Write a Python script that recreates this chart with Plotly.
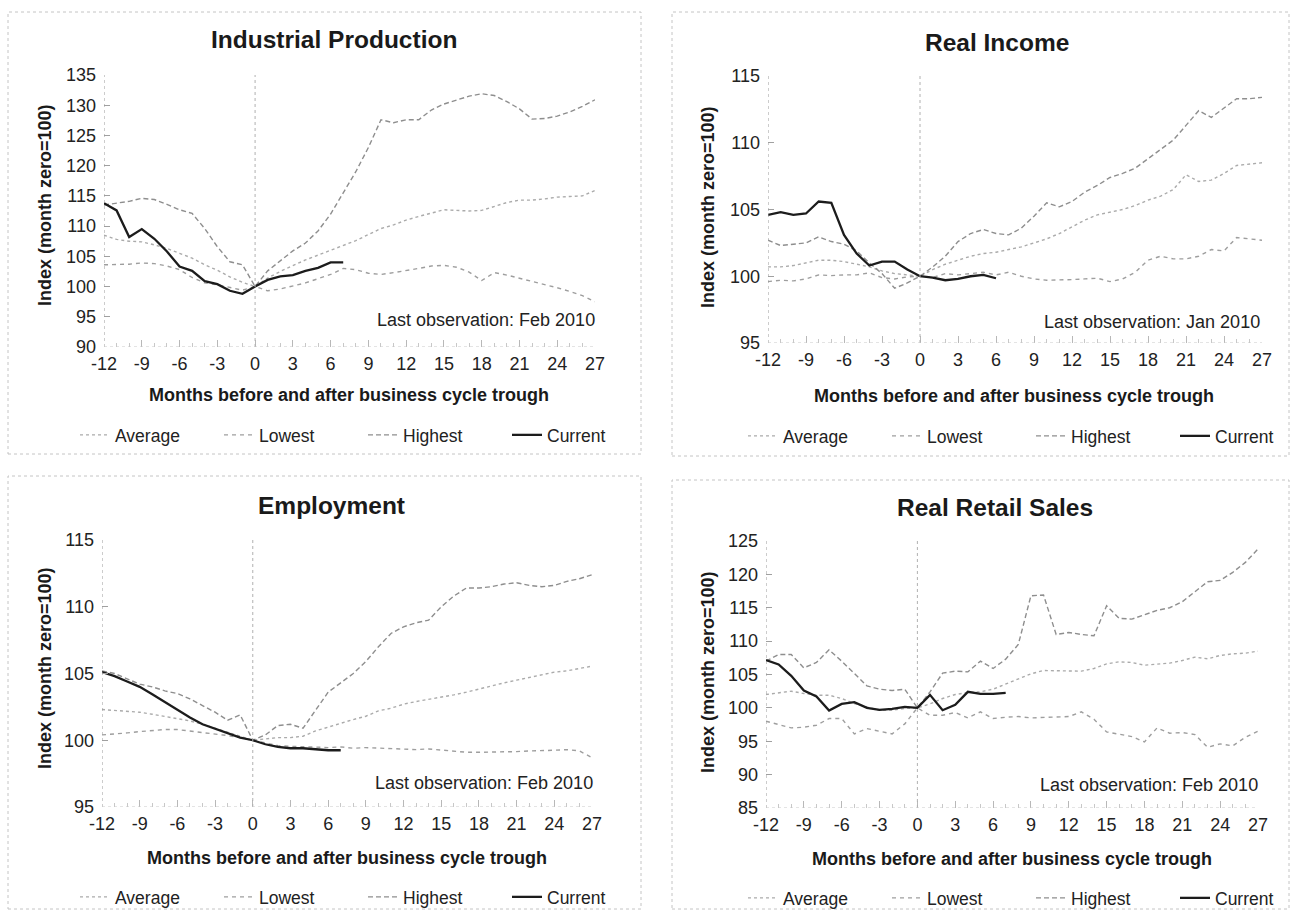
import plotly.graph_objects as go

FONT = "Liberation Sans, Arial, sans-serif"
W, H = 1290, 910

# Months relative to the business cycle trough
months = list(range(-12, 28))
current_months = list(range(-12, 8))
income_current_months = list(range(-12, 7))

# Industrial Production (index, month zero = 100)
ip_average = [108.5, 107.8, 107.5, 107.4, 106.9, 106.3, 105.5, 104.7, 103.6, 102.7, 101.6, 100.7, 100.0,
              101.4, 102.5, 103.5, 104.4, 105.2, 106.0, 106.7, 107.6, 108.6, 109.6, 110.2, 111.0, 111.6,
              112.2, 112.7, 112.6, 112.5, 112.6, 113.2, 113.9, 114.3, 114.3, 114.5, 114.8, 114.9, 115.0, 115.9]
ip_lowest = [103.6, 103.6, 103.7, 103.9, 103.8, 103.4, 102.8, 101.5, 100.6, 100.3, 99.9, 99.4, 100.0,
             99.3, 99.6, 100.1, 100.6, 101.3, 102.0, 103.0, 102.8, 102.2, 102.0, 102.3, 102.6, 103.0,
             103.4, 103.5, 103.2, 102.4, 101.0, 102.3, 101.9, 101.4, 100.8, 100.3, 99.8, 99.2, 98.5, 97.5]
ip_highest = [113.5, 113.8, 114.1, 114.6, 114.4, 113.6, 112.7, 112.1, 109.6, 106.6, 104.1, 103.6, 100.0,
              102.6, 104.3, 105.9, 107.2, 109.2, 112.0, 115.5, 119.0, 123.0, 127.6, 127.1, 127.6, 127.6,
              129.2, 130.2, 130.9, 131.5, 131.9, 131.6, 130.6, 129.4, 127.7, 127.8, 128.2, 128.9, 129.8, 130.9]
ip_current = [113.8, 112.6, 108.2, 109.5, 107.9, 105.8, 103.3, 102.6, 100.9, 100.4, 99.3, 98.8, 100.0,
              101.1, 101.7, 101.9, 102.6, 103.1, 104.0, 104.0]

# Real Income
ri_average = [100.7, 100.7, 100.8, 101.0, 101.2, 101.2, 101.1, 100.9, 100.7, 100.4, 100.2, 100.1, 100.0,
              100.5, 100.9, 101.2, 101.5, 101.7, 101.8, 102.0, 102.2, 102.5, 102.8, 103.2, 103.7, 104.2,
              104.6, 104.8, 105.0, 105.3, 105.7, 106.0, 106.5, 107.6, 107.1, 107.2, 107.7, 108.3, 108.4, 108.5]
ri_lowest = [99.6, 99.7, 99.65, 99.8, 100.1, 100.05, 100.1, 100.1, 100.25, 99.9, 99.8, 99.95, 100.0,
             99.9, 100.2, 100.1, 100.2, 100.3, 100.1, 100.3, 100.0, 99.8, 99.7, 99.7, 99.75, 99.8,
             99.85, 99.6, 99.8, 100.3, 101.2, 101.5, 101.3, 101.3, 101.5, 102.0, 101.9, 102.9, 102.8, 102.7]
ri_highest = [102.7, 102.3, 102.4, 102.5, 102.95, 102.6, 102.4, 101.9, 101.0, 100.2, 99.1, 99.5, 100.0,
              100.7, 101.5, 102.6, 103.2, 103.5, 103.2, 103.1, 103.6, 104.5, 105.5, 105.2, 105.6, 106.3,
              106.8, 107.4, 107.7, 108.1, 108.8, 109.5, 110.2, 111.3, 112.4, 111.9, 112.6, 113.3, 113.3, 113.4]
ri_current = [104.6, 104.8, 104.6, 104.7, 105.6, 105.5, 103.1, 101.7, 100.8, 101.1, 101.1, 100.5, 100.0,
              99.9, 99.7, 99.8, 100.0, 100.1, 99.85]

# Employment
emp_average = [102.3, 102.25, 102.2, 102.1, 101.95, 101.8, 101.65, 101.45, 101.2, 100.9, 100.55, 100.25, 100.0,
               100.1, 100.2, 100.2, 100.3, 100.7, 101.0, 101.3, 101.55, 101.8, 102.2, 102.4, 102.7, 102.9,
               103.05, 103.25, 103.4, 103.6, 103.85, 104.1, 104.3, 104.5, 104.7, 104.9, 105.1, 105.2, 105.35, 105.55]
emp_lowest = [100.4, 100.45, 100.55, 100.65, 100.75, 100.8, 100.8, 100.7, 100.6, 100.5, 100.35, 100.2, 100.0,
              99.75, 99.6, 99.55, 99.5, 99.45, 99.45, 99.5, 99.4, 99.45, 99.4, 99.35, 99.35, 99.3,
              99.35, 99.25, 99.15, 99.1, 99.1, 99.1, 99.15, 99.15, 99.2, 99.2, 99.25, 99.3, 99.2, 98.7]
emp_highest = [105.2, 105.0, 104.6, 104.2, 104.0, 103.7, 103.5, 103.1, 102.6, 102.1, 101.5, 101.9, 100.0,
               100.4, 101.1, 101.2, 100.9, 102.3, 103.6, 104.3, 105.0, 105.9, 107.0, 108.0, 108.5, 108.8,
               109.0, 110.0, 110.8, 111.4, 111.4, 111.5, 111.7, 111.8, 111.6, 111.5, 111.6, 111.9, 112.1, 112.4]
emp_current = [105.1, 104.8, 104.4, 104.0, 103.45, 102.85, 102.3, 101.7, 101.2, 100.85, 100.5, 100.2, 100.0,
               99.7, 99.5, 99.4, 99.4, 99.3, 99.25, 99.25]

# Real Retail Sales
rs_average = [102.0, 102.3, 102.5, 102.15, 101.9, 101.9, 101.4, 100.65, 100.15, 99.65, 99.65, 99.9, 100.0,
              100.6, 101.4, 102.0, 102.3, 102.4, 102.8, 103.6, 104.4, 105.1, 105.6, 105.6, 105.5, 105.5,
              105.9, 106.6, 106.9, 106.8, 106.4, 106.5, 106.7, 107.1, 107.6, 107.35, 107.85, 108.1, 108.2, 108.5]
rs_lowest = [98.0, 97.5, 97.0, 97.1, 97.4, 98.4, 98.4, 96.1, 96.9, 96.5, 96.1, 97.6, 100.0,
             98.9, 98.9, 99.3, 98.5, 99.4, 98.4, 98.6, 98.7, 98.5, 98.6, 98.7, 98.7, 99.4,
             98.3, 96.4, 96.0, 95.7, 94.9, 97.0, 96.2, 96.3, 96.0, 94.1, 94.6, 94.3, 95.6, 96.5]
rs_highest = [107.0, 108.0, 108.0, 106.0, 106.8, 108.7, 107.0, 105.2, 103.3, 102.8, 102.6, 102.8, 100.0,
              102.4, 105.2, 105.5, 105.4, 107.0, 105.9, 107.3, 109.5, 116.8, 116.9, 111.0, 111.3, 111.0,
              110.8, 115.3, 113.4, 113.3, 114.0, 114.6, 115.0, 115.9, 117.4, 118.9, 119.1, 120.3, 121.8, 123.8]
rs_current = [107.15, 106.5, 104.8, 102.6, 101.7, 99.6, 100.6, 100.85, 100.0, 99.7, 99.85, 100.15, 100.0,
              101.95, 99.65, 100.45, 102.4, 102.1, 102.1, 102.25]

x_ticks = list(range(-12, 28, 3))
x_tick_labels = [str(v) for v in x_ticks]


def px_x(p):
    return p / W


def px_y(p):
    return 1 - p / H


# Panel definitions: title, data, y range, plot-area pixel box, last observation text
panels = [
    dict(title="Industrial Production", avg=ip_average, low=ip_lowest, high=ip_highest,
         cur=ip_current, cur_x=current_months, yr=(90, 135),
         box=(104, 595, 75, 347), frame=(8, 641, 12, 454), note="Last observation: Feb 2010",
         title_xy=(334, 40), ytitle_xy=(45, 205), xtitle_xy=(349, 395), note_xy=(597, 320),
         legend_xy=(75, 435)),
    dict(title="Real Income", avg=ri_average, low=ri_lowest, high=ri_highest,
         cur=ri_current, cur_x=income_current_months, yr=(95, 115),
         box=(768, 1262, 76, 343), frame=(672, 1289, 12, 456), note="Last observation: Jan 2010",
         title_xy=(997, 42), ytitle_xy=(708, 207), xtitle_xy=(1014, 396), note_xy=(1262, 322),
         legend_xy=(743, 436)),
    dict(title="Employment", avg=emp_average, low=emp_lowest, high=emp_highest,
         cur=emp_current, cur_x=current_months, yr=(95, 115),
         box=(102, 592, 540, 807), frame=(8, 641, 476, 909), note="Last observation: Feb 2010",
         title_xy=(331, 505), ytitle_xy=(45, 668), xtitle_xy=(347, 858), note_xy=(595, 783),
         legend_xy=(75, 897)),
    dict(title="Real Retail Sales", avg=rs_average, low=rs_lowest, high=rs_highest,
         cur=rs_current, cur_x=current_months, yr=(85, 125),
         box=(766, 1258, 541, 808), frame=(672, 1289, 480, 909), note="Last observation: Feb 2010",
         title_xy=(995, 507), ytitle_xy=(708, 672), xtitle_xy=(1012, 859), note_xy=(1260, 785),
         legend_xy=(743, 898)),
]

series_styles = [
    ("Average", "avg", dict(color="#ababab", width=1.4, dash="dot")),
    ("Lowest", "low", dict(color="#9e9e9e", width=1.4, dash="4px,4px")),
    ("Highest", "high", dict(color="#8e8e8e", width=1.4, dash="5px,3px")),
]

fig = go.Figure()
layout = dict(
    width=W, height=H,
    margin=dict(l=0, r=0, t=0, b=0, autoexpand=False),
    paper_bgcolor="white", plot_bgcolor="white",
    font=dict(family=FONT, color="#222"),
    showlegend=True,
    annotations=[], shapes=[],
)

for i, p in enumerate(panels, start=1):
    sfx = "" if i == 1 else str(i)
    xa, ya = "x" + sfx, "y" + sfx
    leg = "legend" + sfx

    for name, key, line in series_styles:
        fig.add_trace(go.Scatter(x=months, y=p[key], mode="lines", name=name, line=line,
                                 xaxis=xa, yaxis=ya, legend=leg, hoverinfo="skip"))
    fig.add_trace(go.Scatter(x=p["cur_x"], y=p["cur"], mode="lines", name="Current",
                             line=dict(color="#1c1c1c", width=2.3), xaxis=xa, yaxis=ya,
                             legend=leg, legendwidth=60, hoverinfo="skip"))

    x0, x1, y0, y1 = p["box"]
    layout["xaxis" + sfx] = dict(
        domain=[px_x(x0), px_x(x1)], range=[-12, 27], anchor=ya,
        tickmode="array", tickvals=x_ticks, ticktext=x_tick_labels,
        ticks="inside", ticklen=7, tickcolor="#b8b8b8",
        minor=dict(dtick=1, tick0=0, ticks="inside", ticklen=4, tickcolor="#c8c8c8"),
        showgrid=False, zeroline=False, showline=False, ticklabelstandoff=4, automargin=False,
        tickfont=dict(family=FONT, size=18, color="#222"), fixedrange=True,
    )
    layout["yaxis" + sfx] = dict(
        domain=[px_y(y1), px_y(y0)], range=list(p["yr"]), anchor=xa, dtick=5,
        ticks="inside", ticklen=6, tickcolor="#a0a0a0",
        showgrid=False, zeroline=False, showline=False, ticklabelstandoff=7, automargin=False,
        tickfont=dict(family=FONT, size=18, color="#222"), fixedrange=True,
    )

    lx, ly = p["legend_xy"]
    layout[leg] = dict(
        orientation="h", x=px_x(lx), y=px_y(ly), xanchor="left", yanchor="middle",
        entrywidth=99, entrywidthmode="pixels", traceorder="normal",
        font=dict(family=FONT, size=17.5, color="#222"), bgcolor="rgba(0,0,0,0)",
        borderwidth=0, itemclick=False, itemdoubleclick=False,
    )

    ymin, ymax = p["yr"]
    # dotted y axis, trough marker and baseline
    layout["shapes"] += [
        dict(type="line", xref=xa, yref=ya, x0=-12, x1=-12, y0=ymin, y1=ymax,
             line=dict(color="#9a9a9a", width=1, dash="dot")),
        dict(type="line", xref=xa, yref=ya, x0=0, x1=0, y0=ymin, y1=ymax,
             line=dict(color="#b0b0b0", width=1, dash="dot")),
        dict(type="line", xref=xa, yref=ya, x0=-12, x1=27, y0=ymin, y1=ymin,
             line=dict(color="#c8c8c8", width=1, dash="dot")),
    ]
    # panel frame
    fx0, fx1, fy0, fy1 = p["frame"]
    layout["shapes"].append(dict(type="rect", xref="paper", yref="paper",
                                 x0=px_x(fx0), x1=px_x(fx1), y0=px_y(fy1), y1=px_y(fy0),
                                 line=dict(color="#c4c4c4", width=1, dash="dot")))

    tx, ty = p["title_xy"]
    layout["annotations"].append(dict(
        text="<b>%s</b>" % p["title"], xref="paper", yref="paper", x=px_x(tx), y=px_y(ty),
        xanchor="center", yanchor="middle", showarrow=False,
        font=dict(family=FONT, size=24.5, color="#1a1a1a")))
    yx, yy = p["ytitle_xy"]
    layout["annotations"].append(dict(
        text="<b>Index (month zero=100)</b>", xref="paper", yref="paper", x=px_x(yx), y=px_y(yy),
        xanchor="center", yanchor="middle", textangle=-90, showarrow=False,
        font=dict(family=FONT, size=18, color="#1a1a1a")))
    mx, my = p["xtitle_xy"]
    layout["annotations"].append(dict(
        text="<b>Months before and after business cycle trough</b>", xref="paper", yref="paper",
        x=px_x(mx), y=px_y(my), xanchor="center", yanchor="middle", showarrow=False,
        font=dict(family=FONT, size=18, color="#1a1a1a")))
    nx, ny = p["note_xy"]
    layout["annotations"].append(dict(
        text=p["note"], xref="paper", yref="paper", x=px_x(nx), y=px_y(ny),
        xanchor="right", yanchor="middle", showarrow=False,
        font=dict(family=FONT, size=18, color="#222")))

fig.update_layout(**layout)
fig.write_html("out.html")
